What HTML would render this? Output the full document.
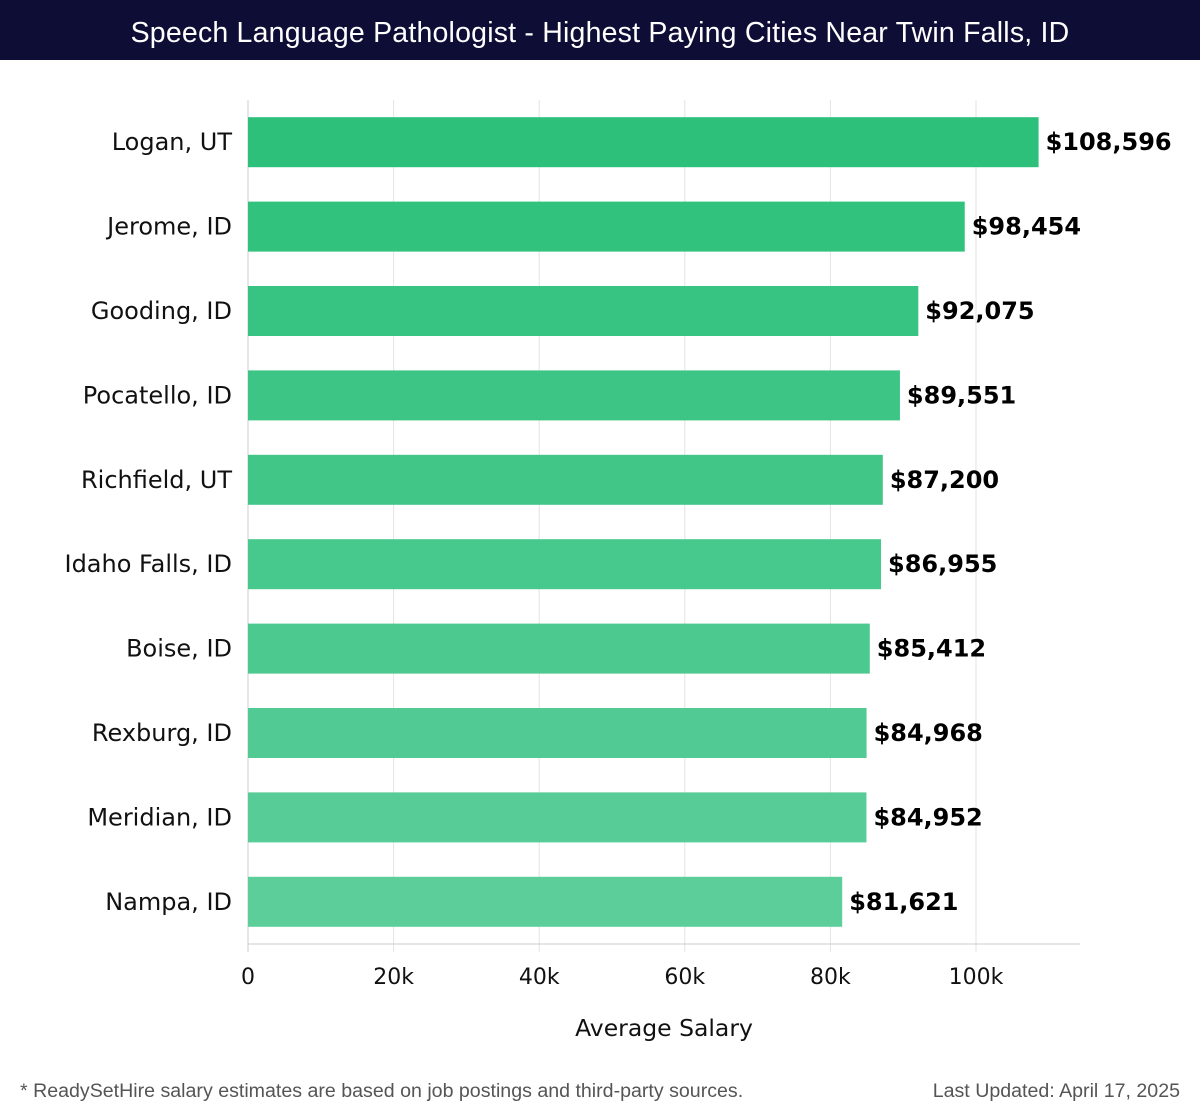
<!DOCTYPE html>
<html><head><meta charset="utf-8">
<style>
body{margin:0;width:1200px;height:1120px;background:#fff;font-family:"DejaVu Sans","Liberation Sans",sans-serif;overflow:hidden;position:relative}
#title{position:absolute;left:0;top:0;width:1200px;height:60px;background:#0d0d36;color:#fff;font-size:28.5px;text-align:center;line-height:66px;font-family:"Liberation Sans",sans-serif;letter-spacing:0.2px}
.foot{position:absolute;top:1080px;font-size:19.6px;color:#555;font-family:"Liberation Sans",sans-serif}
</style></head><body>
<div id="title">Speech Language Pathologist - Highest Paying Cities Near Twin Falls, ID</div>
<svg id="chart" width="1200" height="1070" style="position:absolute;left:0;top:0"></svg>
<div class="foot" style="left:20px">* ReadySetHire salary estimates are based on job postings and third-party sources.</div>
<div class="foot" style="right:20px">Last Updated: April 17, 2025</div>
<script>
const categories=["Logan, UT","Jerome, ID","Gooding, ID","Pocatello, ID","Richfield, UT","Idaho Falls, ID","Boise, ID","Rexburg, ID","Meridian, ID","Nampa, ID"];
const salaries=[108596,98454,92075,89551,87200,86955,85412,84968,84952,81621];
const ticks=[0,20000,40000,60000,80000,100000];
const tickLabels=["0","20k","40k","60k","80k","100k"];
const NS="http://www.w3.org/2000/svg";
const svg=document.getElementById('chart');
const x0=248,pxPerUnit=145.6/20000,plotTop=100,plotBottom=944,plotRight=1080;
const xs=v=>x0+v*pxPerUnit;
const band=(plotBottom-plotTop)/categories.length;
const yc=i=>plotTop+band*(i+0.5);
function mk(t,a){const e=document.createElementNS(NS,t);for(const k in a)e.setAttribute(k,a[k]);svg.appendChild(e);return e;}
ticks.forEach((t,i)=>{
  const g=mk('line',{x1:xs(t),x2:xs(t),y1:plotTop,y2:plotBottom+8,stroke:i==0?'#ccc':'#e3e3e3','stroke-width':1});
  
  
  const tl=mk('text',{x:xs(t),y:984,'text-anchor':'middle','font-size':22,fill:'#111'});
  tl.textContent=tickLabels[i];
  
  
});
const ax=mk('line',{x1:x0,x2:plotRight,y1:plotBottom,y2:plotBottom,stroke:'#ccc'});


categories.forEach((c,i)=>{
  const t=i/(categories.length-1);
  const r=Math.round(44+t*(92-44)),g=Math.round(192+t*(206-192)),b=Math.round(122+t*(154-122));
  const bar=mk('rect',{x:x0,y:yc(i)-25,width:xs(salaries[i])-x0,height:50,fill:`rgb(${r},${g},${b})`});
  
  
  const lab=mk('text',{x:232,y:yc(i)+8,'text-anchor':'end','font-size':24,fill:'#111'});
  lab.textContent=c;
  
  
  const v=mk('text',{x:xs(salaries[i])+7,y:yc(i)+8,'font-size':24,'font-weight':'bold',fill:'#000'});
  v.textContent='$'+salaries[i].toLocaleString('en-US');
  
  
});
const at=mk('text',{x:664,y:1036,'text-anchor':'middle','font-size':23.5,fill:'#111'});
at.textContent='Average Salary';


</script>
</body></html>
